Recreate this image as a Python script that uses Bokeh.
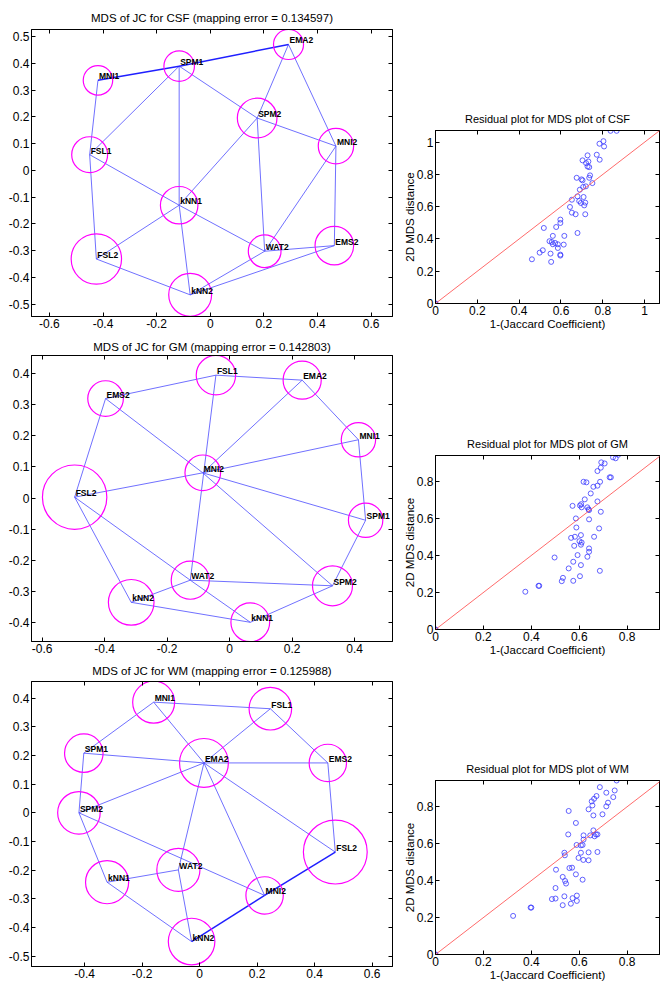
from bokeh.plotting import figure
from bokeh.layouts import row, column
from bokeh.models import Range1d, FixedTicker, ColumnDataSource, Slope, LinearAxis
from bokeh.core.properties import value
from bokeh.embed import file_html
from bokeh.resources import INLINE

FONT = "Liberation Sans"

# ---------------- MDS node data ----------------
csf_names = ["EMA2", "SPM1", "MNI1", "SPM2", "MNI2", "FSL1", "kNN1", "FSL2", "WAT2", "EMS2", "kNN2"]
csf_x = [0.292, -0.116, -0.419, 0.175, 0.469, -0.450, -0.116, -0.425, 0.203, 0.463, -0.075]
csf_y = [0.471, 0.390, 0.337, 0.196, 0.091, 0.059, -0.130, -0.331, -0.302, -0.281, -0.465]
csf_r = [0.056, 0.057, 0.055, 0.074, 0.066, 0.067, 0.070, 0.094, 0.061, 0.072, 0.080]
csf_edges = [("MNI1", "SPM1"), ("SPM1", "EMA2"), ("SPM1", "FSL1"), ("SPM1", "kNN1"), ("SPM1", "SPM2"),
             ("EMA2", "SPM2"), ("EMA2", "MNI2"), ("SPM2", "MNI2"), ("SPM2", "kNN1"), ("SPM2", "WAT2"),
             ("MNI1", "FSL1"), ("FSL1", "FSL2"), ("FSL1", "kNN1"), ("kNN1", "WAT2"), ("kNN1", "FSL2"),
             ("kNN1", "kNN2"), ("FSL2", "kNN2"), ("kNN2", "WAT2"), ("kNN2", "EMS2"), ("WAT2", "EMS2"),
             ("WAT2", "MNI2"), ("MNI2", "EMS2")]
csf_strong = [("MNI1", "SPM1"), ("SPM1", "EMA2")]

gm_names = ["FSL1", "EMA2", "EMS2", "MNI1", "MNI2", "FSL2", "SPM1", "WAT2", "SPM2", "kNN2", "kNN1"]
gm_x = [-0.044, 0.232, -0.397, 0.412, -0.086, -0.496, 0.435, -0.126, 0.329, -0.315, 0.066]
gm_y = [0.394, 0.378, 0.319, 0.187, 0.081, 0.003, -0.071, -0.263, -0.281, -0.334, -0.398]
gm_r = [0.063, 0.061, 0.057, 0.055, 0.057, 0.103, 0.055, 0.061, 0.064, 0.073, 0.062]
gm_edges = [("EMS2", "FSL1"), ("FSL1", "EMA2"), ("EMA2", "MNI1"), ("EMA2", "MNI2"), ("FSL1", "WAT2"),
            ("EMS2", "FSL2"), ("EMS2", "MNI2"), ("MNI2", "MNI1"), ("MNI2", "FSL2"), ("MNI2", "SPM1"),
            ("MNI2", "SPM2"), ("MNI1", "SPM1"), ("SPM1", "SPM2"), ("FSL2", "WAT2"), ("WAT2", "kNN1"),
            ("FSL2", "kNN2"), ("kNN2", "WAT2"), ("kNN2", "kNN1"), ("WAT2", "SPM2"), ("kNN1", "SPM2")]
gm_strong = []

wm_names = ["MNI1", "FSL1", "SPM1", "EMA2", "EMS2", "SPM2", "FSL2", "WAT2", "kNN1", "MNI2", "kNN2"]
wm_x = [-0.160, 0.246, -0.403, 0.015, 0.446, -0.420, 0.472, -0.074, -0.322, 0.226, -0.028]
wm_y = [0.386, 0.363, 0.208, 0.174, 0.174, 0.000, -0.137, -0.199, -0.242, -0.288, -0.449]
wm_r = [0.073, 0.074, 0.067, 0.085, 0.065, 0.074, 0.111, 0.075, 0.075, 0.065, 0.081]
wm_edges = [("MNI1", "FSL1"), ("MNI1", "SPM1"), ("MNI1", "EMA2"), ("FSL1", "EMA2"), ("FSL1", "EMS2"),
            ("SPM1", "EMA2"), ("SPM1", "SPM2"), ("EMA2", "EMS2"), ("EMA2", "SPM2"), ("EMA2", "WAT2"),
            ("EMA2", "MNI2"), ("EMA2", "FSL2"), ("EMS2", "FSL2"), ("SPM2", "kNN1"), ("SPM2", "MNI2"),
            ("kNN1", "WAT2"), ("kNN1", "kNN2"), ("WAT2", "kNN2"), ("kNN2", "MNI2"), ("MNI2", "FSL2")]
wm_strong = [("kNN2", "MNI2"), ("MNI2", "FSL2")]

# ---------------- Residual data ----------------
csf_jc = [0.837, 0.866, 0.803, 0.784, 0.806, 0.771, 0.727, 0.785, 0.703, 0.720, 0.731, 0.727, 0.735,
          0.675, 0.698, 0.703, 0.735, 0.739, 0.750, 0.719, 0.706, 0.690, 0.679, 0.708, 0.652, 0.687,
          0.695, 0.716, 0.711, 0.643, 0.652, 0.670, 0.716, 0.597, 0.597, 0.518, 0.577, 0.561, 0.616,
          0.679, 0.545, 0.556, 0.561, 0.572, 0.585, 0.613, 0.585, 0.498, 0.513, 0.550, 0.597, 0.597,
          0.461, 0.553, 0.0, 0.0]
csf_md = [1.070, 1.070, 1.006, 0.990, 0.973, 0.922, 0.918, 0.891, 0.887, 0.870, 0.880, 0.849, 0.845,
          0.779, 0.769, 0.763, 0.779, 0.794, 0.746, 0.726, 0.722, 0.705, 0.664, 0.660, 0.643, 0.635,
          0.623, 0.625, 0.608, 0.598, 0.563, 0.553, 0.553, 0.520, 0.499, 0.468, 0.474, 0.419, 0.419,
          0.437, 0.386, 0.381, 0.367, 0.375, 0.367, 0.365, 0.344, 0.315, 0.330, 0.309, 0.303, 0.297,
          0.274, 0.258, 0.0, 0.0]

gm_jc = [0.763, 0.741, 0.752, 0.692, 0.706, 0.690, 0.676, 0.727, 0.732, 0.618, 0.630, 0.687, 0.676,
         0.659, 0.648, 0.623, 0.676, 0.572, 0.603, 0.608, 0.610, 0.634, 0.639, 0.641, 0.586, 0.641,
         0.690, 0.588, 0.683, 0.566, 0.582, 0.607, 0.662, 0.601, 0.610, 0.607, 0.641, 0.641, 0.579,
         0.634, 0.497, 0.593, 0.575, 0.607, 0.556, 0.686, 0.532, 0.527, 0.575, 0.603, 0.430, 0.433,
         0.375, 0.0, 0.0]
gm_md = [0.944, 0.930, 0.925, 0.903, 0.897, 0.874, 0.856, 0.822, 0.822, 0.798, 0.795, 0.798, 0.777,
         0.771, 0.735, 0.703, 0.692, 0.668, 0.670, 0.677, 0.660, 0.660, 0.649, 0.645, 0.600, 0.595,
         0.636, 0.551, 0.546, 0.495, 0.501, 0.510, 0.501, 0.477, 0.470, 0.458, 0.438, 0.420, 0.452,
         0.393, 0.389, 0.402, 0.366, 0.348, 0.330, 0.317, 0.279, 0.261, 0.263, 0.288, 0.236, 0.236,
         0.204, 0.0, 0.0]

wm_jc = [0.756, 0.686, 0.748, 0.713, 0.672, 0.662, 0.720, 0.652, 0.655, 0.742, 0.713, 0.639, 0.556,
         0.659, 0.697, 0.586, 0.659, 0.554, 0.618, 0.646, 0.670, 0.676, 0.664, 0.589, 0.607, 0.614,
         0.618, 0.538, 0.540, 0.607, 0.639, 0.676, 0.597, 0.617, 0.639, 0.503, 0.570, 0.559, 0.586,
         0.531, 0.541, 0.545, 0.614, 0.501, 0.538, 0.590, 0.572, 0.486, 0.501, 0.590, 0.531, 0.565,
         0.397, 0.400, 0.324, 0.0, 0.0]
wm_md = [0.942, 0.906, 0.888, 0.876, 0.858, 0.843, 0.822, 0.829, 0.807, 0.852, 0.802, 0.786, 0.777,
         0.753, 0.759, 0.712, 0.672, 0.650, 0.645, 0.645, 0.650, 0.650, 0.640, 0.593, 0.591, 0.593,
         0.622, 0.551, 0.537, 0.551, 0.553, 0.555, 0.523, 0.512, 0.510, 0.459, 0.470, 0.468, 0.434,
         0.420, 0.398, 0.384, 0.405, 0.360, 0.315, 0.319, 0.305, 0.300, 0.303, 0.290, 0.267, 0.275,
         0.254, 0.254, 0.209, 0.0, 0.0]

mds_titles = ["MDS of JC for CSF (mapping error = 0.134597)",
              "MDS of JC for GM (mapping error = 0.142803)",
              "MDS of JC for WM (mapping error = 0.125988)"]
res_titles = ["Residual plot for MDS plot of CSF",
              "Residual plot for MDS plot of GM",
              "Residual plot for MDS plot of WM"]
x_label = "1-(Jaccard Coefficient)"
y_label = "2D MDS distance"


def lab(t):
    s = f"{t:g}"
    return "0" if s in ("0", "-0") else s


def tick_style(ax, ticks, show_labels=True):
    ax.ticker = FixedTicker(ticks=ticks)
    ax.major_tick_in = 4
    ax.major_tick_out = 0
    ax.minor_tick_line_color = None
    ax.axis_line_color = "black"
    ax.major_tick_line_color = "black"
    ax.major_label_text_font = FONT
    ax.major_label_text_color = "black"
    if show_labels:
        ax.major_label_overrides = {t: lab(t) for t in ticks}
        ax.major_label_text_font_size = "12px"
        ax.major_label_standoff = 2
    else:
        ax.major_label_overrides = {t: "" for t in ticks}
        ax.major_label_text_font_size = "0px"
        ax.major_label_standoff = 0
    ax.axis_label_text_font = FONT
    ax.axis_label_text_font_style = "normal"
    ax.axis_label_text_font_size = "11.5px"
    ax.axis_label_text_color = "black"
    ax.axis_label_standoff = 0


def style_axes(p, xticks, yticks, standoff, xlab=None, ylab=None):
    p.xgrid.visible = False
    p.ygrid.visible = False
    p.outline_line_color = "black"
    p.outline_line_width = 1
    p.background_fill_color = "white"
    p.border_fill_color = "white"
    p.title.text_font = FONT
    p.title.text_font_style = "normal"
    p.title.align = "center"
    p.title.text_color = "black"
    p.title.standoff = standoff
    bottom = p.below[0]
    left = p.left[0]
    tick_style(bottom, xticks)
    tick_style(left, yticks)
    if xlab:
        bottom.axis_label = xlab
    if ylab:
        left.axis_label = ylab
        left.axis_label_standoff = -2
    top = LinearAxis()
    right = LinearAxis()
    tick_style(top, xticks, False)
    tick_style(right, yticks, False)
    p.add_layout(top, "above")
    p.add_layout(right, "right")


def ticks_range(a, b, step):
    n = int(round((b - a) / step))
    return [round(a + i * step, 1) for i in range(n + 1)]


def mds_fig(title, names, xs, ys, rs, edges, strong, xr, yr, xticks, yticks, w, h, bl, br, bt, bb, so):
    p = figure(width=w, height=h, x_range=Range1d(*xr), y_range=Range1d(*yr),
               output_backend="svg", toolbar_location=None, title=title,
               min_border_left=bl, min_border_right=br, min_border_top=bt, min_border_bottom=bb)
    style_axes(p, xticks, yticks, so)
    p.title.text_font_size = "11.5px"
    pos = {n: (x, y) for n, x, y in zip(names, xs, ys)}
    e_thin = [e for e in edges if e not in strong]
    for group, lw, col in ((e_thin, 0.8, "#4b4bff"), (strong, 1.5, "#1f1fff")):
        if not group:
            continue
        src = ColumnDataSource(dict(
            x0=[pos[a][0] for a, b in group], y0=[pos[a][1] for a, b in group],
            x1=[pos[b][0] for a, b in group], y1=[pos[b][1] for a, b in group]))
        p.segment("x0", "y0", "x1", "y1", source=src, line_color=col, line_width=lw)
    nsrc = ColumnDataSource(dict(x=xs, y=ys, r=rs, name=names))
    p.circle("x", "y", radius="r", source=nsrc, fill_color=None, line_color="#ff00ff", line_width=1.2)
    p.text("x", "y", text="name", source=nsrc, text_font=value(FONT), text_font_style="bold",
           text_font_size="8.5px", text_color="black", x_offset=1, y_offset=-4, text_baseline="middle")
    return p


def res_fig(title, jx, my, lim_x, lim_y, xticks, yticks, w, h, bl, br, bt, bb):
    p = figure(width=w, height=h, x_range=Range1d(0, lim_x), y_range=Range1d(0, lim_y),
               output_backend="svg", toolbar_location=None, title=title,
               min_border_left=bl, min_border_right=br, min_border_top=bt, min_border_bottom=bb)
    style_axes(p, xticks, yticks, 12, x_label, y_label)
    p.title.text_font_size = "11px"
    p.add_layout(Slope(gradient=1, y_intercept=0, line_color="#ff5a5a", line_width=0.9))
    p.scatter(jx, my, marker="circle", size=5, fill_color=None, line_color="#3a3aff", line_width=0.8)
    return p


WL, WR = 400, 265

p1 = mds_fig(mds_titles[0], csf_names, csf_x, csf_y, csf_r, csf_edges, csf_strong,
             (-0.667, 0.680), (-0.546, 0.527), ticks_range(-0.6, 0.6, 0.2), ticks_range(-0.5, 0.5, 0.1),
             WL, 333, 31, 8, 29, 17, 12)
p2 = mds_fig(mds_titles[1], gm_names, gm_x, gm_y, gm_r, gm_edges, gm_strong,
             (-0.634, 0.521), (-0.4595, 0.457), ticks_range(-0.6, 0.4, 0.2), ticks_range(-0.4, 0.4, 0.1),
             WL, 323, 31, 8, 22, 15, 6)
p3 = mds_fig(mds_titles[2], wm_names, wm_x, wm_y, wm_r, wm_edges, wm_strong,
             (-0.585, 0.671), (-0.536, 0.458), ticks_range(-0.4, 0.6, 0.2), ticks_range(-0.5, 0.4, 0.1),
             WL, 330, 31, 8, 25, 20, 9)

r1 = res_fig(res_titles[0], csf_jc, csf_md, 1.071, 1.072, ticks_range(0, 1.0, 0.2), ticks_range(0, 1.0, 0.2),
             WR, 334, 33, 6, 130, 31)
r2 = res_fig(res_titles[1], gm_jc, gm_md, 0.935, 0.94, ticks_range(0, 0.8, 0.2), ticks_range(0, 0.8, 0.2),
             WR, 325, 33, 6, 121, 30)
r3 = res_fig(res_titles[2], wm_jc, wm_md, 0.935, 0.942, ticks_range(0, 0.8, 0.2), ticks_range(0, 0.8, 0.2),
             WR, 327, 33, 6, 121, 32)

layout = row(column(p1, p2, p3), column(r1, r2, r3))
open("out.html", "w").write(file_html(layout, INLINE))
